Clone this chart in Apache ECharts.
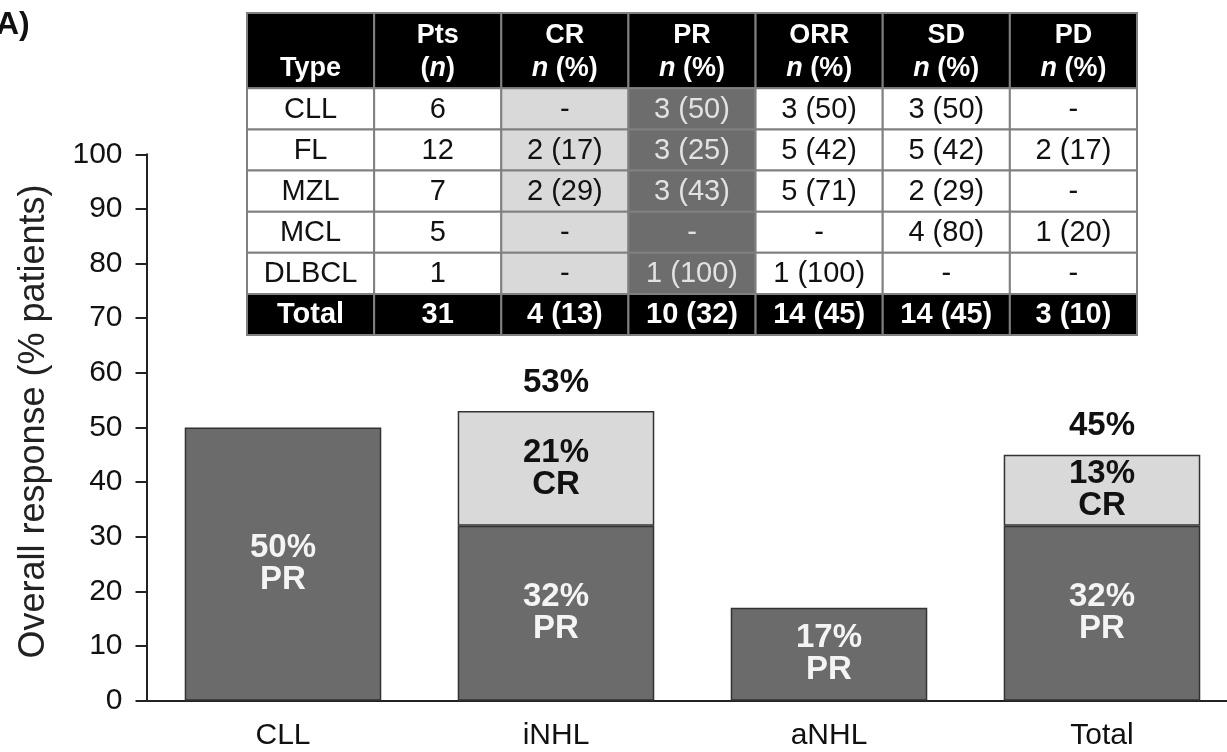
<!DOCTYPE html>
<html>
<head>
<meta charset="utf-8">
<script src="https://cdn.jsdelivr.net/npm/echarts@6/dist/echarts.min.js"></script>
<style>
html,body{margin:0;padding:0;background:#fff;overflow:hidden;width:1227px;height:752px;}
#chart{width:1245px;height:752px;}
</style>
</head>
<body>
<div id="chart"></div>
<script>
// ---- Bar chart data ----
const categories = ['CLL', 'iNHL', 'aNHL', 'Total'];
const prValues = [50, 32, 17, 32];
const crValues = [null, 21, null, 13];
const orrValues = [null, 53, null, 45];
const yTicks = [0, 10, 20, 30, 40, 50, 60, 70, 80, 90, 100];

// ---- Table data ----
const tableColumns = ['', 'Pts', 'CR', 'PR', 'ORR', 'SD', 'PD'];
const tableUnits = ['Type', '(n)', 'n (%)', 'n (%)', 'n (%)', 'n (%)', 'n (%)'];
const tableTypes = ['CLL', 'FL', 'MZL', 'MCL', 'DLBCL', 'Total'];
const tablePts = ['6', '12', '7', '5', '1', '31'];
const tableCR = ['-', '2 (17)', '2 (29)', '-', '-', '4 (13)'];
const tablePR = ['3 (50)', '3 (25)', '3 (43)', '-', '1 (100)', '10 (32)'];
const tableORR = ['3 (50)', '5 (42)', '5 (71)', '-', '1 (100)', '14 (45)'];
const tableSD = ['3 (50)', '5 (42)', '2 (29)', '4 (80)', '-', '14 (45)'];
const tablePD = ['-', '2 (17)', '-', '1 (20)', '-', '3 (10)'];

const tableBody = [tableTypes, tablePts, tableCR, tablePR, tableORR, tableSD, tablePD];
const HEADER_UNITS = 1.83;
const FONT = '"Liberation Sans", Arial, sans-serif';

const cellData = [];
for (let r = 0; r <= tableTypes.length; r++) {
  for (let c = 0; c < tableColumns.length; c++) cellData.push([c, r]);
}

function unitRich(s) {
  const m = s.match(/^(.*?)\bn\b(.*)$/);
  if (!m) return '{b|' + s + '}';
  let out = '';
  if (m[1]) out += '{b|' + m[1] + '}';
  out += '{bi|n}';
  if (m[2]) out += '{b|' + m[2] + '}';
  return out;
}

function renderCell(params, api) {
  const c = api.value(0), r = api.value(1);
  const cx = api.coord([c, 0])[0];
  const w = api.size([1, 0])[0];
  const top = r === 0 ? 0 : HEADER_UNITS + r - 1;
  const bot = r === 0 ? HEADER_UNITS : HEADER_UNITS + r;
  const y0 = api.coord([c, top])[1];
  const y1 = api.coord([c, bot])[1];
  const h = y1 - y0;
  const nRows = tableTypes.length;
  const isHeader = r === 0;
  const isTotal = r === nRows;
  let fill = '#ffffff';
  let textColor = '#111';
  if (isHeader || isTotal) { fill = '#000000'; textColor = '#ffffff'; }
  else if (c === 2) { fill = '#d9d9d9'; }
  else if (c === 3) { fill = '#6d6d6d'; textColor = '#e2e2e2'; }
  const children = [{
    type: 'rect',
    shape: { x: cx - w / 2, y: y0, width: w, height: h },
    style: { fill: fill, stroke: '#808080', lineWidth: 2 }
  }];
  const rich = {
    b: { fontFamily: FONT, fontSize: 27, fontWeight: 'bold', fill: '#fff' },
    bi: { fontFamily: FONT, fontSize: 27, fontWeight: 'bold', fontStyle: 'italic', fill: '#fff' }
  };
  if (isHeader) {
    if (tableColumns[c]) {
      children.push({
        type: 'text',
        style: { text: tableColumns[c], x: cx, y: y0 + h * 0.3, align: 'center', verticalAlign: 'middle',
                 fontFamily: FONT, fontSize: 27, fontWeight: 'bold', fill: '#fff' }
      });
    }
    children.push({
      type: 'text',
      style: { text: unitRich(tableUnits[c]), rich: rich, x: cx, y: y0 + h * 0.74, align: 'center', verticalAlign: 'middle',
               fontFamily: FONT, fontSize: 27, fontWeight: 'bold', fill: '#fff' }
    });
  } else {
    children.push({
      type: 'text',
      style: { text: tableBody[c][r - 1], x: cx, y: y0 + h / 2 + 1, align: 'center', verticalAlign: 'middle',
               fontFamily: FONT, fontSize: 29, fontWeight: isTotal ? 'bold' : 'normal', fill: textColor }
    });
  }
  return { type: 'group', children: children };
}

const chart = echarts.init(document.getElementById('chart'), null, { renderer: 'canvas' });
chart.setOption({
  animation: false,
  backgroundColor: '#ffffff',
  title: {
    text: 'A)', left: -9, top: 4,
    textStyle: { fontFamily: FONT, fontSize: 32, fontWeight: 'bold', color: '#111' }
  },
  grid: [
    { left: 146.5, top: 154.3, width: 1092, height: 546.4, containLabel: false },
    { left: 247, top: 13, width: 890, height: 322, containLabel: false }
  ],
  xAxis: [
    {
      type: 'category', gridIndex: 0, data: categories,
      axisLine: { lineStyle: { color: '#222', width: 2 } },
      axisTick: { alignWithLabel: true, length: 10, lineStyle: { color: '#222', width: 2 } },
      axisLabel: { fontFamily: FONT, fontSize: 30, color: '#111', margin: 20 }
    },
    { type: 'category', gridIndex: 1, data: tableColumns, show: false }
  ],
  yAxis: [
    {
      type: 'value', gridIndex: 0, min: yTicks[0], max: yTicks[yTicks.length - 1], interval: 10,
      name: 'Overall response (% patients)', nameLocation: 'middle', nameRotate: 90, nameGap: 94,
      nameTextStyle: { fontFamily: FONT, fontSize: 36, color: '#222', padding: [0, 0, 0, 12] },
      axisLine: { show: true, lineStyle: { color: '#222', width: 2 } },
      axisTick: { show: true, length: 11, lineStyle: { color: '#222', width: 2 } },
      splitLine: { show: false },
      axisLabel: { fontFamily: FONT, fontSize: 30, color: '#111', margin: 24 }
    },
    { type: 'value', gridIndex: 1, min: 0, max: HEADER_UNITS + tableTypes.length, inverse: true, show: false }
  ],
  series: [
    {
      name: 'PR', type: 'bar', stack: 'orr', xAxisIndex: 0, yAxisIndex: 0,
      data: prValues, barCategoryGap: '28%',
      itemStyle: { color: '#6b6b6b', borderColor: '#333', borderWidth: 1.5 },
      label: { show: true, position: 'inside', formatter: '{c}%\nPR', fontFamily: FONT, fontSize: 33,
               fontWeight: 'bold', color: '#f4f4f4', lineHeight: 32 }
    },
    {
      name: 'CR', type: 'bar', stack: 'orr', xAxisIndex: 0, yAxisIndex: 0,
      data: crValues, barCategoryGap: '28%',
      itemStyle: { color: '#d9d9d9', borderColor: '#333', borderWidth: 1.5 },
      label: { show: true, position: 'inside', formatter: '{c}%\nCR', fontFamily: FONT, fontSize: 33,
               fontWeight: 'bold', color: '#111', lineHeight: 32 }
    },
    {
      name: 'ORR', type: 'scatter', xAxisIndex: 0, yAxisIndex: 0,
      data: orrValues, symbolSize: 0, silent: true,
      itemStyle: { opacity: 1, color: '#111' },
      label: { show: true, position: 'top', distance: 12, formatter: '{c}%', fontFamily: FONT, fontSize: 33,
               fontWeight: 'bold', color: '#111', lineHeight: 33, opacity: 1 }
    },
    {
      name: 'table', type: 'custom', xAxisIndex: 1, yAxisIndex: 1,
      data: cellData, renderItem: renderCell, silent: true, clip: false
    }
  ]
});
</script>
</body>
</html>
